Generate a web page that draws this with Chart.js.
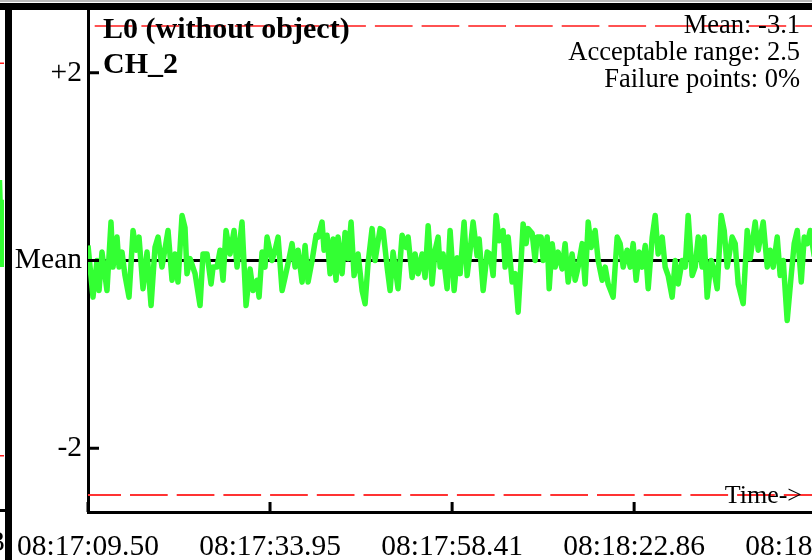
<!DOCTYPE html>
<html>
<head>
<meta charset="utf-8">
<script src="https://cdn.jsdelivr.net/npm/chart.js@4.4.1/dist/chart.umd.min.js"></script>
<style>
  html, body { margin: 0; padding: 0; background: #fff; }
  body { width: 812px; height: 560px; overflow: hidden; position: relative; }
  #prevWrap { position: absolute; left: -300px; top: 0; }
  #mainWrap { position: absolute; left: 12px; top: 0; }
</style>
</head>
<body>
<div id="prevWrap"><canvas id="prevChart" width="312" height="560"></canvas></div>
<div id="mainWrap"><canvas id="mainChart" width="900" height="560"></canvas></div>
<script>
// CH_2 signal, seconds after 08:17:09.50, deviation from mean
const sampleTimes = [
    0, 0.67, 1.21, 1.48, 1.88, 2.55, 3.09, 3.36, 3.90, 4.17, 4.57, 4.97, 5.51, 6.05, 6.45, 6.85,
    7.39, 7.93, 8.47, 9.00, 9.41, 9.94, 10.75, 11.29, 11.69, 12.09, 12.63, 13.03, 13.30, 13.71,
    14.38, 15.05, 15.45, 15.99, 16.53, 16.80, 17.33, 17.74, 18.14, 18.54, 19.08, 19.62, 20.02,
    20.69, 21.23, 21.77, 22.17, 22.71, 22.98, 23.38, 23.78, 24.05,
    24.72, 25.13, 25.53, 26.07, 26.47, 27.01, 27.41, 27.82, 28.22, 28.76, 29.16, 29.56, 30.10,
    30.64, 30.91, 31.44, 31.71, 32.11, 32.52, 32.92, 33.32, 33.59, 34.13, 34.53, 34.94, 35.34,
    35.74, 36.28, 36.82, 37.22, 37.62, 38.16, 38.56, 39.24, 39.64, 40.18, 40.58, 40.98, 41.65,
    42.19, 42.73, 43.00, 43.54, 43.94, 44.34, 44.88, 45.28, 45.69, 46.22, 46.63, 47.03, 47.30,
    47.70, 48.24, 48.64,
    49.18, 49.58, 49.99, 50.52, 50.93, 51.33, 51.73, 52.27, 52.54, 53.08, 53.62, 54.02, 54.42,
    54.82, 55.23, 55.76, 56.03, 56.44, 56.97, 57.38, 57.78, 58.18, 58.45, 58.85, 59.12, 59.66,
    60.06, 60.33, 60.87, 61.14, 61.68, 61.95, 62.35, 62.75, 63.15, 63.69, 64.09, 64.50, 65.03,
    65.44, 65.84, 66.38, 66.78, 67.19, 67.59, 68.12, 68.53, 69.07, 69.47, 69.87, 70.54, 71.08,
    71.48, 71.89, 72.42, 72.83, 73.23, 73.63, 74.04,
    74.44, 74.85, 75.25, 75.79, 76.19, 76.59, 77.13, 77.53, 77.93, 78.47, 78.88, 79.28, 79.82,
    80.22, 80.62, 81.16, 81.56, 81.97, 82.50, 82.77, 83.17, 83.71, 83.98, 84.52, 85.06, 85.46,
    85.86, 86.53, 86.94, 87.34, 88.01, 88.55, 88.95, 89.62, 90.03, 90.70, 91.24, 91.64, 92.04,
    92.58, 92.98, 93.39, 93.92, 94.46, 94.86, 95.27, 95.81, 96.21, 96.61, 97.01, 97.55, 98.09
];
const ch2Values = [
    0.16, -0.39, 0, -0.32, 0.09, -0.32, 0.41, -0.07, 0.25, -0.07, 0.09, -0.16, -0.39, 0.32, 0.11, 0.25,
    -0.30, 0.09, -0.48, 0.14, 0.25, -0.07, 0.32, -0.21, 0.07, -0.23, 0.48, 0.35, -0.14, 0.02,
    -0.14, -0.48, 0.07, 0.07, -0.25, -0.07, -0.07, 0.11, -0.21, 0.32, 0.07, 0.32, -0.07,
    0.41, -0.48, -0.09, -0.32, -0.21, -0.39, 0.09, -0.07, 0.25,
    0, 0.11, 0.25, -0.32, -0.18, 0.02, 0.18, -0.07, 0.11, -0.23, 0.16, -0.23, 0,
    0.27, 0.25, 0.41, 0.11, 0.27, -0.14, 0.23, -0.21, 0.25, -0.14, 0.30, 0.02, 0.41,
    -0.16, 0.07, -0.32, -0.46, -0.03, 0.34, 0, 0.34, 0.32, -0.07, -0.32, 0.09, -0.30,
    0.27, 0.14, 0.25, -0.18, 0.07, -0.14, 0.07, -0.18, 0.37, -0.25, 0.11, 0.25, -0.07,
    0.07, -0.30, 0.32,
    -0.32, 0.03, -0.14, 0.41, -0.16, 0.11, 0.41, 0.05, 0.23, -0.32, 0.09, 0.07, -0.16,
    0.48, 0.21, 0.32, -0.07, 0.25, -0.23, -0.14, -0.55, 0, 0.39, 0.18, 0.34, 0.29,
    0, 0.25, 0.25, 0, 0.25, -0.30, 0.18, -0.07, 0.09, -0.09, 0.18, -0.23, 0.07,
    -0.21, -0.07, 0.18, -0.25, 0.41, 0.14, 0.32, 0, -0.21, -0.07, -0.25, -0.39, 0.25,
    0.18, -0.07, 0.11, -0.07, 0.18, -0.21, 0.09,
    -0.07, 0.16, -0.30, 0.25, 0.48, 0.07, 0.25, -0.07, -0.16, -0.39, 0, -0.25, 0,
    -0.07, 0.48, -0.16, -0.07, 0.25, -0.07, 0.25, -0.39, 0, -0.07, -0.30, 0.48, 0.32,
    -0.07, 0.25, 0.18, -0.25, -0.46, 0.32, 0.02, 0.41, 0.11, 0.41, -0.07, 0.11, -0.07,
    0.25, -0.16, 0, -0.64, -0.16, 0.18, 0.32, -0.23, 0.25, 0.18, 0.32, 0.05, 0.28
];

const tickTimes = [0, 24.45, 48.91, 73.36, 97.82];
const tickLabels = ['08:17:09.50', '08:17:33.95', '08:17:58.41', '08:18:22.86', '08:18:47.32'];
const yTickValues = [-2, 0, 2];
const yTickLabels = ['-2', 'Mean', '+2'];

const panelTitle = 'L0 (without object)';
const channelName = 'CH_2';
const meanValue = -3.1;
const acceptableRange = 2.5;
const failurePercent = 0;

// the neighbouring panel, only its right edge is in view
const prevTimes = [29.3, 29.55, 29.8, 30];
const prevValues = [0.3, 0.85, -0.08, 0.64];
const prevRange = 2.1;
const prevTickTimes = [23.09];
const prevTickLabels = ['08:18:46.93'];

const timeMax = 108;
const yMin = -2.68;
const yMax = 2.67;

Chart.defaults.font.family = '"Liberation Serif", "Times New Roman", serif';
Chart.defaults.color = '#000';

const serif = '"Liberation Serif", "Times New Roman", serif';

function toPoints(xs, ys) {
    return xs.map((x, i) => ({ x: x, y: ys[i] }));
}

function flatLine(value, from, to) {
    return [{ x: from, y: value }, { x: to, y: value }];
}

// keep chart.js from reserving room for overflowing labels
function noPadding(s) {
    s.paddingTop = 0;
    s.paddingBottom = 0;
    s.paddingLeft = 0;
    s.paddingRight = 0;
}

const mainFrame = {
    id: 'mainFrame',
    afterDraw(chart) {
        const ctx = chart.ctx;
        const area = chart.chartArea;
        const xs = chart.scales.x;
        const ys = chart.scales.y;
        ctx.save();

        // tick marks point into the plot
        ctx.strokeStyle = '#000';
        ctx.lineWidth = 3;
        ctx.beginPath();
        xs.ticks.forEach(t => {
            const px = xs.getPixelForValue(t.value);
            ctx.moveTo(px, area.bottom);
            ctx.lineTo(px, area.bottom - 10);
        });
        ys.ticks.forEach(t => {
            const py = ys.getPixelForValue(t.value);
            ctx.moveTo(area.left, py);
            ctx.lineTo(area.left + 11, py);
        });
        ctx.stroke();

        ctx.fillStyle = '#bbb';
        ctx.fillRect(0, 0, chart.width, 2);
        ctx.fillStyle = '#000';
        ctx.fillRect(0, 3, chart.width, 7);

        ctx.textBaseline = 'alphabetic';
        ctx.textAlign = 'left';
        ctx.font = 'bold 30px ' + serif;
        ctx.fillText(panelTitle, area.left + 15, 38);
        ctx.fillText(channelName, area.left + 15, 73);

        ctx.textAlign = 'right';
        ctx.font = '26.5px ' + serif;
        ctx.fillText('Mean: ' + meanValue, area.left + 712, 33);
        ctx.fillText('Acceptable range: ' + acceptableRange, area.left + 712, 60);
        ctx.fillText('Failure points: ' + failurePercent + '%', area.left + 712, 87);
        ctx.font = '26px ' + serif;
        ctx.fillText('Time->', area.left + 714, 503);
        ctx.restore();
    }
};

const prevFrame = {
    id: 'prevFrame',
    afterDraw(chart) {
        const ctx = chart.ctx;
        const area = chart.chartArea;
        ctx.save();
        ctx.fillStyle = '#bbb';
        ctx.fillRect(0, 0, chart.width, 2);
        ctx.fillStyle = '#000';
        ctx.fillRect(0, 3, chart.width, 7);
        ctx.fillRect(area.right + 1, 3, 7, chart.height);
        ctx.restore();
    }
};

new Chart(document.getElementById('mainChart'), {
    type: 'line',
    data: {
        datasets: [
            {
                label: channelName,
                data: toPoints(sampleTimes, ch2Values),
                borderColor: '#33ff33',
                borderWidth: 5.5,
                pointRadius: 0,
                tension: 0,
                borderJoinStyle: 'round',
            },
            {
                label: 'Mean',
                data: flatLine(0, 0, timeMax),
                borderColor: '#000',
                borderWidth: 3,
                pointRadius: 0,
            },
            {
                label: 'upper limit',
                data: flatLine(acceptableRange, 0, timeMax),
                borderColor: '#ff1a1a',
                borderWidth: 1.6,
                borderDash: [37.7, 9],
                borderDashOffset: 40,
                pointRadius: 0,
            },
            {
                label: 'lower limit',
                data: flatLine(-acceptableRange, 0, timeMax),
                borderColor: '#ff3333',
                borderWidth: 2,
                borderDash: [37.7, 9],
                borderDashOffset: 4.7,
                pointRadius: 0,
            }
        ]
    },
    options: {
        responsive: false,
        animation: false,
        layout: { padding: { top: 10, right: 20, left: 0, bottom: 0 } },
        plugins: { legend: { display: false }, tooltip: { enabled: false } },
        scales: {
            x: {
                type: 'linear',
                min: 0,
                max: timeMax,
                grid: { display: false, drawTicks: false },
                border: { color: '#000', width: 3 },
                afterBuildTicks: s => { s.ticks = tickTimes.map(v => ({ value: v })); },
                afterFit: s => { s.height = 48; noPadding(s); },
                ticks: {
                    autoSkip: false,
                    maxRotation: 0,
                    minRotation: 0,
                    padding: 18,
                    color: '#000',
                    font: { size: 29.5 },
                    callback: (v, i) => tickLabels[i],
                }
            },
            y: {
                type: 'linear',
                min: yMin,
                max: yMax,
                grid: { display: false, drawTicks: false },
                border: { color: '#000', width: 3 },
                afterBuildTicks: s => { s.ticks = yTickValues.map(v => ({ value: v })); },
                afterFit: s => { s.width = 76; noPadding(s); },
                ticks: {
                    padding: 6,
                    color: '#000',
                    font: { size: 29.5 },
                    callback: v => yTickLabels[yTickValues.indexOf(v)],
                }
            }
        }
    },
    plugins: [mainFrame]
});

new Chart(document.getElementById('prevChart'), {
    type: 'line',
    data: {
        datasets: [
            {
                data: toPoints(prevTimes, prevValues),
                borderColor: '#33ff33',
                borderWidth: 5.5,
                pointRadius: 0,
            },
            {
                data: flatLine(prevRange, 0, 30),
                borderColor: '#ff1a1a',
                borderWidth: 1.5,
                pointRadius: 0,
            },
            {
                data: flatLine(-prevRange, 0, 30),
                borderColor: '#ff1a1a',
                borderWidth: 1.5,
                pointRadius: 0,
            }
        ]
    },
    options: {
        responsive: false,
        animation: false,
        layout: { padding: { top: 10, right: 8, left: 0, bottom: 0 } },
        plugins: { legend: { display: false }, tooltip: { enabled: false } },
        scales: {
            x: {
                type: 'linear',
                min: 0,
                max: 30,
                grid: { display: false, drawTicks: false },
                border: { color: '#000', width: 3 },
                afterBuildTicks: s => { s.ticks = prevTickTimes.map(v => ({ value: v })); },
                afterFit: s => { s.height = 50; noPadding(s); },
                ticks: {
                    autoSkip: false,
                    maxRotation: 0,
                    minRotation: 0,
                    padding: 16,
                    color: '#000',
                    font: { size: 29.5 },
                    callback: (v, i) => prevTickLabels[i],
                }
            },
            y: {
                display: false,
                min: yMin,
                max: yMax,
            }
        }
    },
    plugins: [prevFrame]
});
</script>
</body>
</html>
